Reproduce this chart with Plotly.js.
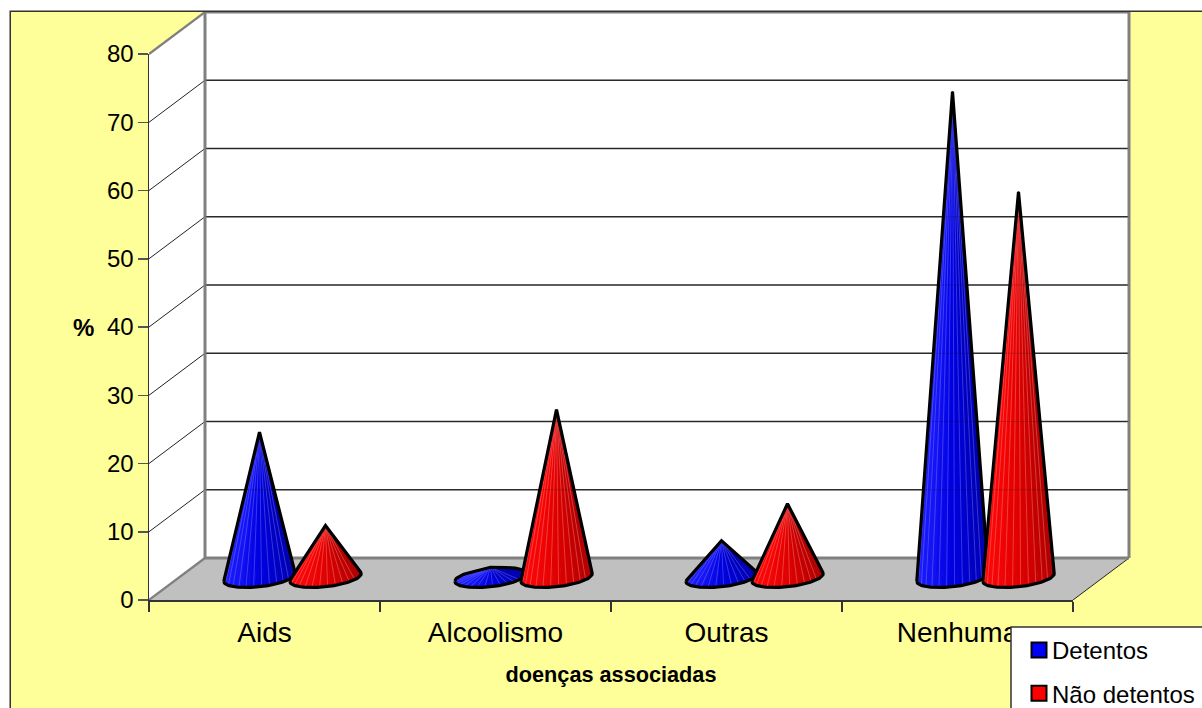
<!DOCTYPE html>
<html lang="pt">
<head>
<meta charset="utf-8">
<title>Doenças associadas</title>
<script src="https://cdn.plot.ly/plotly-3.0.1.min.js"></script>
<style>
  html, body { margin: 0; padding: 0; background: #fff; overflow: hidden; width: 1202px; height: 708px; }
  #chart { position: absolute; left: 11px; top: 12px; width: 1240px; height: 730px; box-shadow: -1.5px -1.5px 0 #333; }
</style>
</head>
<body>
<div id="chart"></div>
<script>
// Percentages per associated disease
const categories = ['Aids', 'Alcoolismo', 'Outras', 'Nenhuma'];
const detentos = [21.3, 1.5, 5.4, 71.2];
const naoDetentos = [7.6, 24.6, 10.8, 56.5];
const yTicks = [0, 10, 20, 30, 40, 50, 60, 70, 80];

// Front face of the box and oblique projection of the depth axis
const FRONT_W = 924, FRONT_H = 546;
const X_MAX = categories.length, Y_MAX = 80;
const PX_X = FRONT_W / X_MAX, PX_Y = FRONT_H / Y_MAX;
const DEPTH_PX_X = 56, DEPTH_PX_Y = 42;
const DEPTH_X = DEPTH_PX_X / PX_X, DEPTH_Y = DEPTH_PX_Y / PX_Y;

// The drawing area also holds the receding walls, plus a sliver for the right wall edge
const PLOT_W = FRONT_W + DEPTH_PX_X + 3, PLOT_H = FRONT_H + DEPTH_PX_Y;

// Cone geometry, expressed in screen pixels around the base centre
const SERIES_OFFSET = 33, RADIUS = 33;
const TILT_X = 13.6, TILT_Y = 10;
const BASE_LIFT = 22.5 / PX_Y;

const BLUE = { left: [32, 32, 255], mid: [0, 0, 226], right: [0, 0, 176], stripe: '#8c8cff' };
const RED = { left: [255, 10, 10], mid: [226, 0, 0], right: [176, 0, 0], stripe: '#ff9c9c' };

const traces = [];

function addPath(points, style) {
  traces.push(Object.assign({
    x: points.map(p => p ? p[0] : null),
    y: points.map(p => p ? p[1] : null),
    mode: 'lines', hoverinfo: 'skip', showlegend: false
  }, style));
}

function segments(list) {
  const out = [];
  list.forEach(s => out.push(s[0], s[1], null));
  return out;
}

// Walls and floor of the box
const dx = DEPTH_X, dy = DEPTH_Y;
addPath([[0, 0], [0, Y_MAX], [dx, Y_MAX + dy], [X_MAX + dx, Y_MAX + dy], [X_MAX + dx, dy], [dx, dy], [0, 0]],
  { fill: 'toself', fillcolor: '#ffffff', line: { width: 0 } });
addPath([[0, 0], [X_MAX, 0], [X_MAX + dx, dy], [dx, dy], [0, 0]],
  { fill: 'toself', fillcolor: '#c0c0c0', line: { width: 0 } });

const inner = yTicks.filter(v => v > 0 && v < Y_MAX);
const wallLines = segments(inner.map(v => [[dx, v + dy], [X_MAX + dx, v + dy]]));
addPath(segments(inner.map(v => [[0, v], [dx, v + dy]])), { line: { color: '#222', width: 1 } });
addPath(wallLines, { line: { color: '#333', width: 1.3 } });
addPath(segments([[[X_MAX, 0], [X_MAX + dx, dy]]]), { line: { color: '#222', width: 1 } });
addPath(segments([
  [[dx, dy], [dx, Y_MAX + dy]],
  [[X_MAX + dx, dy], [X_MAX + dx, Y_MAX + dy]],
  [[dx, dy], [X_MAX + dx, dy]],
  [[dx, Y_MAX + dy], [X_MAX + dx, Y_MAX + dy]]
]), { line: { color: '#808080', width: 3 } });
addPath(segments([
  [[0, 0], [dx, dy]],
  [[0, Y_MAX], [dx, Y_MAX + dy]]
]), { line: { color: '#808080', width: 2.2 } });

function mix(a, b, f) {
  return a.map((c, i) => Math.round(c + (b[i] - c) * f));
}

function shade(pal, u) {
  const c = u < 0 ? mix(pal.mid, pal.left, -u) : mix(pal.mid, pal.right, u);
  return 'rgb(' + c.join(',') + ')';
}

// Convex hull in pixel space, used for the silhouette of a cone
function hull(pts) {
  const s = pts.slice().sort((a, b) => a[0] - b[0] || a[1] - b[1]);
  const cross = (o, a, b) => (a[0] - o[0]) * (b[1] - o[1]) - (a[1] - o[1]) * (b[0] - o[0]);
  const half = list => {
    const h = [];
    list.forEach(p => {
      while (h.length > 1 && cross(h[h.length - 2], h[h.length - 1], p) <= 0) h.pop();
      h.push(p);
    });
    h.pop();
    return h;
  };
  return half(s).concat(half(s.slice().reverse()));
}

// One cone: shaded facets, pale moire stripes and a heavy outline
function addCone(catIndex, value, side, pal) {
  const cx = catIndex + 0.5 + DEPTH_X / 2 + side * SERIES_OFFSET / PX_X;
  const cy = BASE_LIFT;
  const apex = [cx, cy + value];
  const rim = t => [
    cx + (RADIUS * Math.cos(t) + TILT_X * Math.sin(t)) / PX_X,
    cy + (TILT_Y * Math.sin(t)) / PX_Y
  ];
  const N = 72, LEVELS = 14;
  // the far half of the surface goes down first, the near half on top of it
  [0, Math.PI].forEach(start => {
    const buckets = Array.from({ length: LEVELS }, () => []);
    for (let i = 0; i < N / 2; i++) {
      const t0 = start + 2 * Math.PI * i / N, t1 = start + 2 * Math.PI * (i + 1) / N;
      const a = rim(t0), b = rim(t1);
      const u = ((a[0] + b[0]) / 2 - cx) * PX_X / Math.hypot(RADIUS, TILT_X);
      const lvl = Math.max(0, Math.min(LEVELS - 1, Math.floor((u + 1) / 2 * LEVELS)));
      buckets[lvl].push(apex, a, b, apex, null);
    }
    buckets.forEach((tri, lvl) => {
      if (!tri.length) return;
      const col = shade(pal, (lvl + 0.5) / LEVELS * 2 - 1);
      addPath(tri, { fill: 'toself', fillcolor: col, line: { color: col, width: 0.7 } });
    });
  });

  const stripes = [];
  const STRIPES = 14;
  for (let i = 1; i < STRIPES; i++) {
    stripes.push(apex, rim(Math.PI + Math.PI * i / STRIPES), null);
  }
  addPath(stripes, { line: { color: pal.stripe, width: 1 }, opacity: 0.38 });

  const toPx = p => [p[0] * PX_X, p[1] * PX_Y];
  const rimPts = [];
  for (let i = 0; i < 120; i++) rimPts.push(toPx(rim(2 * Math.PI * i / 120)));
  const outline = hull(rimPts.concat([toPx(apex)])).map(p => [p[0] / PX_X, p[1] / PX_Y]);
  outline.push(outline[0]);
  addPath(outline, { line: { color: '#000', width: 3.2 } });
}

categories.forEach((c, i) => {
  addCone(i, detentos[i], -1, BLUE);
  addCone(i, naoDetentos[i], 1, RED);
});

// Wall lines stay faintly visible through the cones
addPath(wallLines, { line: { color: '#000', width: 1 }, opacity: 0.18 });

// Legend entries live on the front-face axes, which are drawn over the box
const legendEntry = (name, color) => ({
  x: [null], y: [null], xaxis: 'x2', yaxis: 'y2',
  mode: 'markers', name, legendgroup: name,
  marker: { symbol: 'square', size: 15, color, line: { color: '#000', width: 2 } },
  hoverinfo: 'skip', showlegend: true
});
traces.push(legendEntry('Detentos', '#0000ff'));
traces.push(legendEntry('Não detentos', '#ff0000'));

const FONT = 'Liberation Sans, Arial, sans-serif';
const CHART_W = 1240, CHART_H = 730, LEFT = 138;
const paperX = px => (px - LEFT) / PLOT_W;
const paperY = px => (PLOT_H - px) / PLOT_H;

const layout = {
  width: CHART_W, height: CHART_H,
  margin: { l: LEFT, t: 0, r: CHART_W - LEFT - PLOT_W, b: CHART_H - PLOT_H, pad: 0 },
  paper_bgcolor: '#ffff99', plot_bgcolor: 'rgba(0,0,0,0)',
  font: { family: FONT, color: '#000' },
  // box coordinates: same scale as the front axes, extended by the depth
  xaxis: { visible: false, range: [0, PLOT_W / PX_X], fixedrange: true },
  yaxis: { visible: false, range: [0, PLOT_H / PX_Y], fixedrange: true },
  xaxis2: {
    anchor: 'y2', domain: [0, FRONT_W / PLOT_W], range: [0, X_MAX],
    showgrid: false, zeroline: false,
    showline: true, linecolor: '#333', linewidth: 1.5,
    tickmode: 'array', tickvals: categories.map((c, i) => i + 0.5), ticktext: categories,
    ticks: '', ticklabelstandoff: 7, tickfont: { size: 28, family: FONT, color: '#000' },
    minor: { tickmode: 'array', tickvals: categories.map((c, i) => i).concat([X_MAX]), ticks: 'outside', ticklen: 10, tickwidth: 1.2, tickcolor: '#333', showgrid: false },
    title: { text: '<b>doenças associadas</b>', font: { size: 21.7, family: FONT, color: '#000' }, standoff: 19 },
    fixedrange: true
  },
  yaxis2: {
    anchor: 'x2', domain: [0, FRONT_H / PLOT_H], range: [0, Y_MAX],
    showgrid: false, zeroline: false,
    showline: true, linecolor: '#333', linewidth: 1.5,
    tickmode: 'array', tickvals: yTicks,
    ticks: 'outside', ticklen: 10, tickwidth: 1.5, tickcolor: '#555',
    ticklabelstandoff: -1,
    tickfont: { size: 24, family: FONT, color: '#000' },
    fixedrange: true
  },
  showlegend: true,
  legend: {
    x: paperX(1001), y: paperY(616), xanchor: 'left', yanchor: 'top',
    bgcolor: 'rgba(0,0,0,0)', borderwidth: 0,
    font: { size: 24, family: FONT, color: '#000' },
    tracegroupgap: 9, itemclick: false, itemdoubleclick: false
  },
  shapes: [{
    type: 'rect', xref: 'paper', yref: 'paper', layer: 'above',
    x0: paperX(1000), x1: 1.5, y0: paperY(615), y1: -1,
    fillcolor: '#ffffff', line: { color: '#333', width: 1.5 }
  }],
  annotations: [{
    text: '<b>%</b>', xref: 'paper', yref: 'paper',
    x: paperX(72), y: paperY(315), xanchor: 'center', yanchor: 'middle',
    showarrow: false, font: { size: 24, family: FONT, color: '#000' }
  }]
};

Plotly.newPlot('chart', traces, layout, { displayModeBar: false, staticPlot: true }).then(() => {
  // centre the legend swatches in the gap before their labels
  document.querySelectorAll('#chart .legendsymbols').forEach(g => g.setAttribute('transform', 'translate(7,0)'));
});
</script>
</body>
</html>
